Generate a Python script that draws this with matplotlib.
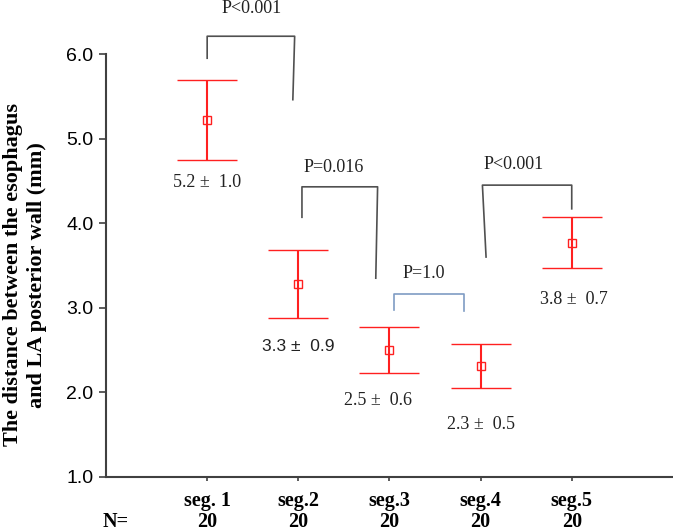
import matplotlib.pyplot as plt
from matplotlib import transforms

# data
segments = ['seg. 1', 'seg.2', 'seg.3', 'seg.4', 'seg.5']
n_counts = [20, 20, 20, 20, 20]
means = [5.22, 3.28, 2.50, 2.31, 3.77]
errors = [0.47, 0.40, 0.27, 0.26, 0.30]
labels = ['5.2 \u00b1  1.0', '3.3 \u00b1  0.9', '2.5 \u00b1  0.6', '2.3 \u00b1  0.5', '3.8 \u00b1  0.7']
p_values = ['P<0.001', 'P=0.016', 'P=1.0', 'P<0.001']

serif = ['Liberation Serif', 'DejaVu Serif']
sans = ['Liberation Sans', 'DejaVu Sans']

fig = plt.figure(figsize=(6.73, 5.31), dpi=100)
ax = fig.add_axes([0.1575, 0.1017, 0.841, 0.7966])

x = list(range(1, len(segments) + 1))
ax.errorbar(x, means, yerr=errors, fmt='s', color='#ff2020', ecolor='#ff2020',
            mfc='none', mec='#ff2020', ms=6, mew=1.0, elinewidth=1.5,
            capsize=21.5, capthick=1.5)

ax.set_xlim(-0.11, 6.1)
ax.set_ylim(1.0, 6.0)
ax.set_yticks([1.0, 2.0, 3.0, 4.0, 5.0, 6.0])
ax.set_yticklabels(['%.1f' % v for v in [1.0, 2.0, 3.0, 4.0, 5.0, 6.0]],
                   family=sans, fontsize=14)
ax.set_xticks(x)
ax.set_xticklabels(segments, family=serif, fontsize=14.5, fontweight='bold')
ax.tick_params(axis='y', length=5, width=1.2, color='#404040', pad=4)
ax.tick_params(axis='x', length=3, width=1.2, color='#404040', pad=7)

for side in ['top', 'right']:
    ax.spines[side].set_visible(False)
for side in ['left', 'bottom']:
    ax.spines[side].set_color('#404040')
    ax.spines[side].set_linewidth(1.5)

ax.set_ylabel('The distance between the esophagus\nand LA posterior wall (mm)',
              family=serif, fontsize=16, fontweight='bold', linespacing=1.3)
ax.yaxis.set_label_coords(-0.104, 0.478)

# N row under the tick labels
trans = transforms.blended_transform_factory(ax.transData, ax.transAxes)
for xi, n in zip(x, n_counts):
    ax.text(xi, -0.106, str(n), transform=trans, ha='center', va='center',
            family=serif, fontsize=14.5, fontweight='bold')
ax.text(0.0, -0.106, 'N=', transform=trans, ha='center', va='center',
        family=serif, fontsize=14.5, fontweight='bold')

# mean +/- sd labels below each error bar
label_dx = [0.0, 0.0, -0.13, 0.0, 0.02]
label_gap = [0.27, 0.34, 0.32, 0.43, 0.37]
for xi, m, e, t, dx, g in zip(x, means, errors, labels, label_dx, label_gap):
    fam = sans if xi == 2 else serif
    ax.text(xi + dx, m - e - g, t, ha='center', va='center', family=fam,
            fontsize=13 if xi != 2 else 12.5, color='#222222')

# significance brackets: (x_left, y_left_bottom, x_right, y_right_bottom, y_top, x_right_bottom)
brackets = [
    (1.00, 5.95, 1.96, 5.46, 6.21, 1.94),
    (2.04, 4.07, 2.87, 3.35, 4.43, 2.85),
    (3.05, 2.97, 3.82, 2.96, 3.16, 3.82),
    (4.02, 3.60, 5.00, 4.17, 4.45, 5.00),
]
bracket_colors = ['#505050', '#505050', '#7f9cc4', '#505050']
left_bottom_x = [1.00, 2.04, 3.05, 4.06]
text_pos = [(1.49, 6.54), (2.39, 4.66), (3.38, 3.40), (4.36, 4.69)]
for (xl, yl, xr, yr, yt, xrb), c, xlb, (tx, ty), p in zip(
        brackets, bracket_colors, left_bottom_x, text_pos, p_values):
    ax.plot([xlb, xl, xr, xrb], [yl, yt, yt, yr], color=c, lw=1.2,
            clip_on=False)
    ax.text(tx, ty, p, ha='center', va='center', family=serif, fontsize=13,
            color='#222222', clip_on=False)

fig.savefig('out.png', dpi=100)
